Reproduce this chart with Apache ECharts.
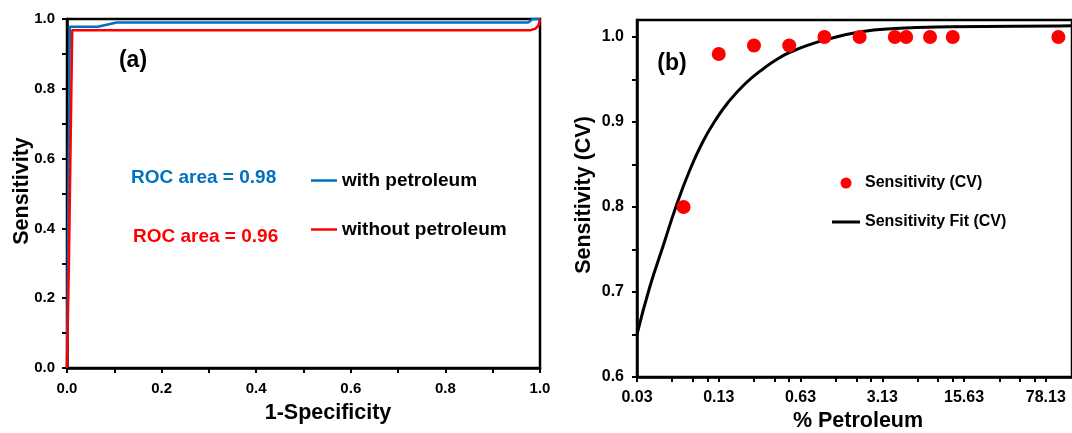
<!DOCTYPE html>
<html>
<head>
<meta charset="utf-8">
<script src="https://cdn.jsdelivr.net/npm/echarts@6/dist/echarts.min.js"></script>
<style>
html,body{margin:0;padding:0;background:#fff;}
#c{width:1072px;height:433px;}
</style>
</head>
<body>
<div id="c"></div>
<script>
// ---------- Panel (a): ROC curves ----------
const rocWithX    = [0, 0.003, 0.006, 0.065, 0.105, 0.975, 0.985, 1.0];
const rocWithY    = [0, 0.50, 0.978, 0.978, 0.990, 0.990, 1.0, 1.0];
const rocWithoutX = [0, 0.004, 0.011, 0.980, 0.990, 0.997, 1.0];
const rocWithoutY = [0, 0.30, 0.968, 0.968, 0.972, 0.982, 1.0];
const rocTickVals = [0, 0.1, 0.2, 0.3, 0.4, 0.5, 0.6, 0.7, 0.8, 0.9, 1.0];

// ---------- Panel (b): sensitivity vs % petroleum (log base 5 axis) ----------
const petX   = [0.0625, 0.125, 0.25, 0.5, 1, 2, 4, 5, 8, 12.5, 100];
const sensY  = [0.80, 0.98, 0.99, 0.99, 1.0, 1.0, 1.0, 1.0, 1.0, 1.0, 1.0];
const fitX   = [0.025, 0.032, 0.042, 0.054, 0.07, 0.09, 0.117, 0.15, 0.21, 0.29, 0.40, 0.55, 0.75, 1.04, 2, 4, 12, 100, 390];
const fitY   = [0.650, 0.705, 0.755, 0.801, 0.842, 0.875, 0.902, 0.923, 0.945, 0.961, 0.9745, 0.984, 0.991, 0.997, 1.006, 1.010, 1.012, 1.013, 1.0135];
const petTickLabels = ['0.03', '0.13', '0.63', '3.13', '15.63', '78.13'];
const sensTickVals  = [0.6, 0.65, 0.7, 0.75, 0.8, 0.85, 0.9, 0.95, 1.0];
const sensLabelVals = [0.6, 0.7, 0.8, 0.9, 1.0];

const X0 = 0.025;      // origin of the log axis (shown as 0.03)
const LOGB = 5;
const toU = x => Math.log(x / X0) / Math.log(LOGB);

const majorU = petTickLabels.map((_, i) => i);
const minorU = [];
majorU.forEach(k => {
  minorU.push(k);
  [2, 3, 4].forEach(m => minorU.push(k + Math.log(m) / Math.log(LOGB)));
});

const FONT = '"Liberation Sans", Arial, sans-serif';
const BLUE = '#0070C0';
const RED = '#FF0000';

const lblStyle = (size) => ({color: '#000', fontWeight: 'bold', fontSize: size, fontFamily: FONT});

const chart = echarts.init(document.getElementById('c'), null, {renderer: 'canvas'});

const txt = (text, x, y, size, color, align, rot) => ({
  type: 'text', x: x, y: y, rotation: rot || 0, silent: true,
  style: {
    text: text, fill: color, font: 'bold ' + size + 'px ' + FONT,
    align: align, verticalAlign: 'middle',
    textAlign: align, textVerticalAlign: 'middle'
  }
});

const option = {
  animation: false,
  backgroundColor: '#fff',
  grid: [
    {left: 67, top: 19, width: 473, height: 349, show: true, borderColor: '#000', borderWidth: 2.5, backgroundColor: 'transparent'},
    {left: 637, top: 20, width: 442, height: 357, show: true, borderColor: '#000', borderWidth: 2.5, backgroundColor: 'transparent'}
  ],
  xAxis: [
    {
      gridIndex: 0, type: 'value', min: 0, max: 1, interval: 0.2,
      axisLine: {show: true, onZero: false, lineStyle: {color: '#000', width: 2.5}},
      axisTick: {show: true, customValues: rocTickVals, length: 5, lineStyle: {color: '#000', width: 2}},
      axisLabel: Object.assign({margin: 13, formatter: v => v.toFixed(1)}, lblStyle(15)),
      splitLine: {show: false}
    },
    {
      gridIndex: 1, type: 'value', min: 0, max: 5.32, interval: 1,
      axisLine: {show: true, onZero: false, lineStyle: {color: '#000', width: 2.5}},
      axisTick: {show: true, customValues: minorU, length: 5, lineStyle: {color: '#000', width: 2}},
      axisLabel: Object.assign({margin: 13, customValues: majorU, formatter: v => petTickLabels[Math.round(v)]}, lblStyle(16)),
      splitLine: {show: false}
    }
  ],
  yAxis: [
    {
      gridIndex: 0, type: 'value', min: 0, max: 1, interval: 0.2,
      axisLine: {show: true, onZero: false, lineStyle: {color: '#000', width: 2.5}},
      axisTick: {show: true, customValues: rocTickVals, length: 5, lineStyle: {color: '#000', width: 2}},
      axisLabel: Object.assign({margin: 12, formatter: v => v.toFixed(1)}, lblStyle(15)),
      splitLine: {show: false}
    },
    {
      gridIndex: 1, type: 'value', min: 0.6, max: 1.02, interval: 0.1,
      axisLine: {show: true, onZero: false, lineStyle: {color: '#000', width: 2.5}},
      axisTick: {show: true, customValues: sensTickVals, length: 5, lineStyle: {color: '#000', width: 2}},
      axisLabel: Object.assign({margin: 13, customValues: sensLabelVals, formatter: v => v.toFixed(1)}, lblStyle(16)),
      splitLine: {show: false}
    }
  ],
  legend: [
    {
      data: [
        {name: 'with petroleum', icon: 'path://M0,0H26V2.5H0Z'},
        {name: 'without petroleum', icon: 'path://M0,0H26V2.5H0Z'}
      ],
      left: 306, top: 166, orient: 'vertical', itemWidth: 26, itemHeight: 14, itemGap: 30,
      selectedMode: false, textStyle: lblStyle(19)
    },
    {
      data: [
        {name: 'Sensitivity (CV)', icon: 'circle'},
        {name: 'Sensitivity Fit (CV)', icon: 'path://M0,0H28V3H0Z'}
      ],
      left: 827, top: 170, orient: 'vertical', itemWidth: 28, itemHeight: 11, itemGap: 23,
      selectedMode: false, textStyle: lblStyle(16)
    }
  ],
  graphic: [
    txt('(a)', 133, 61, 23, '#000', 'center'),
    txt('(b)', 672, 64, 23, '#000', 'center'),
    txt('ROC area = 0.98', 131, 178, 19, BLUE, 'left'),
    txt('ROC area = 0.96', 133, 237, 19, RED, 'left'),
    txt('Sensitivity', 22, 191, 21.5, '#000', 'center', Math.PI / 2),
    txt('1-Specificity', 328, 413, 21.5, '#000', 'center'),
    txt('Sensitivity (CV)', 584, 195, 21.5, '#000', 'center', Math.PI / 2),
    txt('% Petroleum', 858, 421, 21.5, '#000', 'center')
  ],
  series: [
    {
      name: 'with petroleum', type: 'line', xAxisIndex: 0, yAxisIndex: 0,
      data: rocWithX.map((x, i) => [x, rocWithY[i]]),
      symbol: 'none', showSymbol: false, color: BLUE, clip: false,
      lineStyle: {color: BLUE, width: 2.5}, z: 3
    },
    {
      name: 'without petroleum', type: 'line', xAxisIndex: 0, yAxisIndex: 0,
      data: rocWithoutX.map((x, i) => [x, rocWithoutY[i]]),
      symbol: 'none', showSymbol: false, color: RED, clip: false,
      lineStyle: {color: RED, width: 2.5}, z: 4
    },
    {
      name: 'Sensitivity Fit (CV)', type: 'line', xAxisIndex: 1, yAxisIndex: 1,
      data: fitX.map((x, i) => [toU(x), fitY[i]]),
      symbol: 'none', showSymbol: false, smooth: 0.5,
      color: '#000', lineStyle: {color: '#000', width: 3}, z: 3
    },
    {
      name: 'Sensitivity (CV)', type: 'scatter', xAxisIndex: 1, yAxisIndex: 1,
      data: petX.map((x, i) => [toU(x), sensY[i]]),
      symbol: 'circle', symbolSize: 14, color: RED, clip: false,
      itemStyle: {color: RED, opacity: 1}, z: 5
    }
  ]
};
chart.setOption(option);
</script>
</body>
</html>
